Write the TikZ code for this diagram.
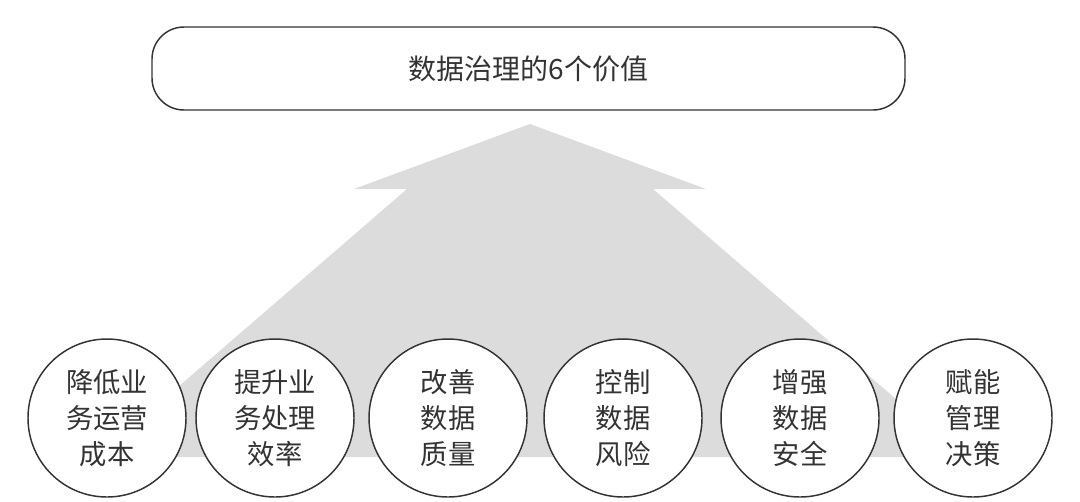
\documentclass[tikz,border=0pt]{standalone}
\usepackage{fontspec}
\newfontfamily\cjk{Noto Sans CJK SC}
\definecolor{arrowgray}{HTML}{DCDCDC}
\definecolor{inkgray}{HTML}{333333}
\begin{document}
\begin{tikzpicture}[x=0.75pt,y=-0.75pt,
  titlebox/.style={draw=inkgray, line width=1.1pt, rounded corners=24pt,
    minimum width=564.75pt, minimum height=62.25pt, inner sep=0pt,
    font=\cjk\fontsize{21}{25}\selectfont, text=inkgray},
  valuecircle/.style={circle, draw=inkgray, line width=1.1pt, fill=white,
    minimum size=118.5pt, inner sep=0pt, align=center,
    font=\cjk\fontsize{20.5}{27}\selectfont, text=inkgray}]
\useasboundingbox (0,0) rectangle (1080,501);
% big upward arrow
\fill[arrowgray] (530,124) -- (706,189) -- (653,189) -- (963,457)
  -- (97,457) -- (407,189) -- (354,189) -- cycle;
% title
\node[titlebox] (title) at (528.5,68.5) {数据治理的6个价值};
% circles
\node[valuecircle] (v1) at (107,418) {降低业\\务运营\\成本};
\node[valuecircle] (v2) at (275,418) {提升业\\务处理\\效率};
\node[valuecircle] (v3) at (448,418) {改善\\数据\\质量};
\node[valuecircle] (v4) at (623,418) {控制\\数据\\风险};
\node[valuecircle] (v5) at (800,418) {增强\\数据\\安全};
\node[valuecircle] (v6) at (973,418) {赋能\\管理\\决策};
\end{tikzpicture}
\end{document}
